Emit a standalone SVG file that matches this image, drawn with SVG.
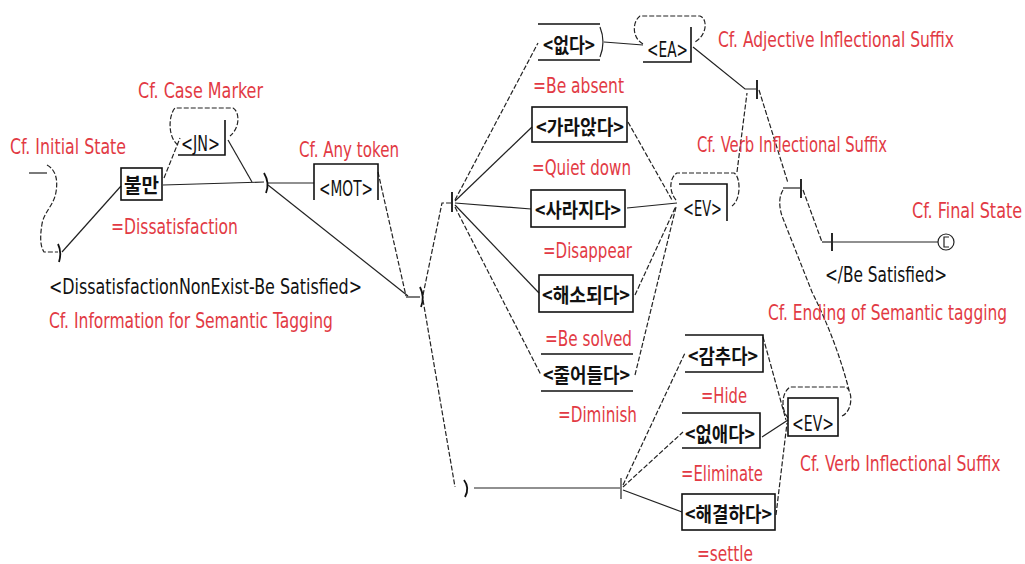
<svg xmlns="http://www.w3.org/2000/svg" width="1025" height="564" viewBox="0 0 1025 564">
<style>
.bg{fill:#ffffff}
.ln{fill:none;stroke:#222;stroke-width:1.2}
.ds{fill:none;stroke:#222;stroke-width:1.2;stroke-dasharray:5 2}
.tk{fill:none;stroke:#111;stroke-width:1.8}
.bx{fill:none;stroke:#111;stroke-width:1.6}
.red{font-family:"Liberation Sans Narrow","DejaVu Sans Condensed","Liberation Sans",sans-serif;font-size:21px;fill:#e23a44}
.blk{font-family:"Liberation Sans Narrow","DejaVu Sans Condensed","Liberation Sans",sans-serif;font-size:21px;fill:#111}
.kr{font-family:"Noto Sans CJK KR","Liberation Sans",sans-serif;font-size:20px;fill:#111;font-weight:bold}
</style>
<rect class="bg" x="0" y="0" width="1025" height="564"/>

<g id="connectors">
  <!-- initial state -->
  <path class="ln" d="M29,173 H47"/>
  <path class="ds" d="M47,165 C56,170 58,180 56,192 C54,205 44,212 42,224 C40,236 40,246 44,252 H58"/>
  <path class="tk" d="M58,244 Q62,252 59,262"/>
  <path class="ln" d="M62,252 L121,186"/>
  <!-- 불만 to JN and hub -->
  <path class="ds" d="M164,178 L180,138"/>
  <path class="ds" d="M178,145 C168,138 168,116 175,108 H233 C240,112 240,128 230,136"/>
  <path class="ln" d="M228,140 L252,182"/>
  <path class="ln" d="M163,185 L264,182"/>
  <path class="tk" d="M264,173 Q270,183 266,193"/>
  <path class="ln" d="M268,183 H314"/>
  <path class="ln" d="M268,185 L408,296"/>
  <path class="ds" d="M378,172 L406,296"/>
  <path class="ln" d="M406,297 H420"/>
  <path class="tk" d="M420,287 Q425,297 421,307"/>
  <!-- hub2 to hub1 -->
  <path class="ds" d="M423,295 L442,203 H452"/>
  <path class="tk" d="M452,192 V212"/>
  <!-- hub2 to lower -->
  <path class="ds" d="M423,300 L455,487"/>
  <path class="tk" d="M464,480 Q470,488 465,497"/>
  <path class="ln" d="M474,488 H620" stroke="#555"/>
  <path class="ln" d="M621,478 V499" stroke="#777"/>
  <!-- hub1 fan -->
  <path class="ds" d="M455,200 L538,43"/>
  <path class="ln" d="M455,201 L532,127"/>
  <path class="ln" d="M455,203 L531,209"/>
  <path class="ln" d="M455,205 L539,293"/>
  <path class="ds" d="M455,207 L541,375"/>
  <!-- 없다 to EA -->
  <path class="ln" d="M604,42 L643,45"/>
  <path class="ds" d="M643,44 C632,38 632,22 640,16 H700 C708,19 707,35 695,42"/>
  <path class="ln" d="M693,47 L745,89 H756"/>
  <path class="tk" d="M757,80 V99"/>
  <!-- boxes to EV upper -->
  <path class="ds" d="M628,122 L672,200"/>
  <path class="ln" d="M627,208 L677,203"/>
  <path class="ds" d="M635,295 L676,206"/>
  <path class="ds" d="M635,375 L676,207"/>
  <path class="ds" d="M676,200 C669,192 669,178 677,173 H734 C741,177 741,200 732,206"/>
  <path class="ds" d="M737,172 L747,93"/>
  <!-- hub6 to hub4 to hub5 to final -->
  <path class="ds" d="M759,90 L788,183"/>
  <path class="ln" d="M783,188 H800"/>
  <path class="tk" d="M801,179 V198"/>
  <path class="ds" d="M803,190 L822,242"/>
  <path class="ln" d="M822,242 H831"/>
  <path class="tk" d="M832,233 V251"/>
  <path class="ln" d="M833,242 H938"/>
  <!-- hub4 down to lower EV -->
  <path class="ds" d="M783,190 Q777,200 782,216 L812,292 Q836,340 849,390"/>
  <path class="ds" d="M788,418 C781,410 781,393 790,387 H846 C853,391 853,411 842,416"/>
  <!-- lower boxes to EV -->
  <path class="ds" d="M763,337 L786,420"/>
  <path class="ln" d="M762,437 L788,420"/>
  <path class="ds" d="M776,515 L787,423"/>
  <!-- hub3 fan -->
  <path class="ds" d="M623,485 L685,353"/>
  <path class="ds" d="M623,487 L683,432"/>
  <path class="ln" d="M623,490 L682,512"/>
</g>

<g id="initial-label"><text class="red" x="10" y="154" textLength="116" lengthAdjust="spacingAndGlyphs">Cf. Initial State</text></g>

<g id="node-bulman">
  <rect class="bx" x="121" y="168" width="41" height="32"/>
  <text class="kr" x="141.5" y="193" text-anchor="middle" font-size="22" textLength="35" lengthAdjust="spacingAndGlyphs">불만</text>
  <text class="red" x="111" y="234" textLength="127" lengthAdjust="spacingAndGlyphs">=Dissatisfaction</text>
</g>

<g id="node-jn">
  <path class="bx" d="M178,155 H225 V120"/>
  <text class="blk" x="181" y="151" textLength="39" lengthAdjust="spacingAndGlyphs">&lt;JN&gt;</text>
  <text class="red" x="138" y="98" textLength="125" lengthAdjust="spacingAndGlyphs">Cf. Case Marker</text>
</g>

<g id="tag-info">
  <text class="blk" x="49" y="294" textLength="313" lengthAdjust="spacingAndGlyphs">&lt;DissatisfactionNonExist-Be Satisfied&gt;</text>
  <text class="red" x="49" y="328" textLength="284" lengthAdjust="spacingAndGlyphs">Cf. Information for Semantic Tagging</text>
</g>

<g id="node-mot">
  <path class="bx" d="M314,200 V164 H378 V200"/>
  <text class="blk" x="319" y="196" textLength="54" lengthAdjust="spacingAndGlyphs">&lt;MOT&gt;</text>
  <text class="red" x="299" y="157" textLength="100" lengthAdjust="spacingAndGlyphs">Cf. Any token</text>
</g>

<g id="node-eopda">
  <path class="bx" d="M538,24 H600 M538,60 H600"/>
  <path class="ln" d="M600,27 Q606,42 600,57"/>
  <text class="kr" x="543" y="53" textLength="52" lengthAdjust="spacingAndGlyphs">&lt;없다&gt;</text>
  <text class="red" x="533" y="93" textLength="91" lengthAdjust="spacingAndGlyphs">=Be absent</text>
</g>

<g id="node-ea">
  <path class="bx" d="M643,62 H691 V27"/>
  <text class="blk" x="647" y="57" textLength="41" lengthAdjust="spacingAndGlyphs">&lt;EA&gt;</text>
  <text class="red" x="718" y="47" textLength="236" lengthAdjust="spacingAndGlyphs">Cf. Adjective Inflectional Suffix</text>
</g>

<g id="node-garaanda">
  <rect class="bx" x="532" y="107" width="95" height="35"/>
  <text class="kr" x="536" y="135" textLength="88" lengthAdjust="spacingAndGlyphs">&lt;가라앉다&gt;</text>
  <text class="red" x="532" y="175" textLength="99" lengthAdjust="spacingAndGlyphs">=Quiet down</text>
</g>

<g id="node-sarajida">
  <rect class="bx" x="531" y="190" width="94" height="37"/>
  <text class="kr" x="535" y="218" textLength="86" lengthAdjust="spacingAndGlyphs">&lt;사라지다&gt;</text>
  <text class="red" x="543" y="258" textLength="89" lengthAdjust="spacingAndGlyphs">=Disappear</text>
</g>

<g id="node-haesodoeda">
  <rect class="bx" x="539" y="275" width="94" height="37"/>
  <text class="kr" x="542" y="303" textLength="88" lengthAdjust="spacingAndGlyphs">&lt;해소되다&gt;</text>
  <text class="red" x="545" y="346" textLength="87" lengthAdjust="spacingAndGlyphs">=Be solved</text>
</g>

<g id="node-jureodeulda">
  <path class="bx" d="M541,354 H633 M541,391 H633"/>
  <text class="kr" x="543" y="383" textLength="87" lengthAdjust="spacingAndGlyphs">&lt;줄어들다&gt;</text>
  <text class="red" x="558" y="422" textLength="79" lengthAdjust="spacingAndGlyphs">=Diminish</text>
</g>

<g id="node-ev-upper">
  <path class="bx" d="M679,184 H727 V221"/>
  <text class="blk" x="683" y="216" textLength="39" lengthAdjust="spacingAndGlyphs">&lt;EV&gt;</text>
  <text class="red" x="697" y="152" textLength="190" lengthAdjust="spacingAndGlyphs">Cf. Verb Inflectional Suffix</text>
</g>

<g id="node-final">
  <circle class="ln" cx="946" cy="242" r="8" stroke-width="1.5"/>
  <path class="ln" d="M949,237 H944 V247 H949"/>
  <text class="red" transform="translate(912,218) scale(0.85,1)">Cf. Final State</text>
  <text class="blk" x="825" y="282" textLength="122" lengthAdjust="spacingAndGlyphs">&lt;/Be Satisfied&gt;</text>
  <text class="red" transform="translate(768,320) scale(0.818,1)">Cf. Ending of Semantic tagging</text>
</g>

<g id="node-gamchuda">
  <path class="bx" d="M685,335 H763 V372 H685"/>
  <text class="kr" x="688" y="364" textLength="70" lengthAdjust="spacingAndGlyphs">&lt;감추다&gt;</text>
  <text class="red" x="701" y="403" textLength="46" lengthAdjust="spacingAndGlyphs">=Hide</text>
</g>

<g id="node-eopsaeda">
  <path class="bx" d="M682,413 H760 V448 H682"/>
  <text class="kr" x="685" y="442" textLength="70" lengthAdjust="spacingAndGlyphs">&lt;없애다&gt;</text>
  <text class="red" x="681" y="481" textLength="82" lengthAdjust="spacingAndGlyphs">=Eliminate</text>
</g>

<g id="node-haegyeolhada">
  <rect class="bx" x="682" y="494" width="93" height="36"/>
  <text class="kr" x="685" y="522" textLength="87" lengthAdjust="spacingAndGlyphs">&lt;해결하다&gt;</text>
  <text class="red" x="697" y="561" textLength="56" lengthAdjust="spacingAndGlyphs">=settle</text>
</g>

<g id="node-ev-lower">
  <rect class="bx" x="788" y="398" width="50" height="38"/>
  <text class="blk" x="792" y="431" textLength="42" lengthAdjust="spacingAndGlyphs">&lt;EV&gt;</text>
  <text class="red" transform="translate(800,471) scale(0.826,1)">Cf. Verb Inflectional Suffix</text>
</g>
</svg>
